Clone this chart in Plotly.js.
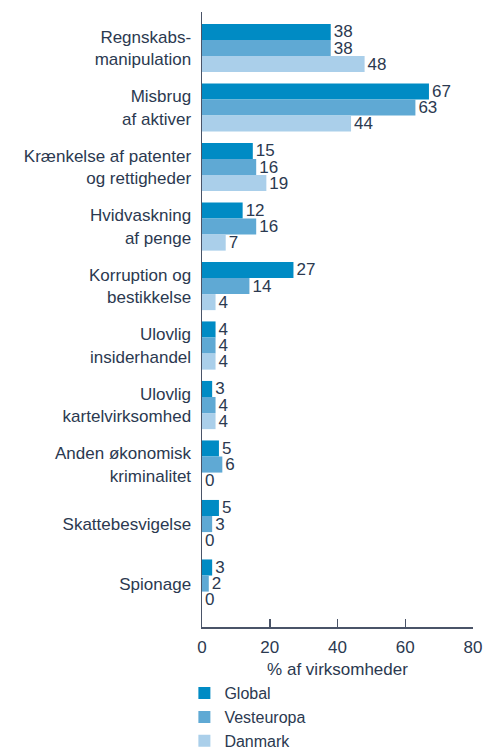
<!DOCTYPE html>
<html>
<head>
<meta charset="utf-8">
<script src="https://cdn.plot.ly/plotly-3.0.1.min.js"></script>
<style>
  html, body { margin: 0; padding: 0; background: #fff; }
  #chart { width: 485px; height: 750px; }
</style>
</head>
<body>
<div id="chart"></div>
<script>
// Kategorier og værdier (% af virksomheder)
const kategorier = [
  "Regnskabs-<br>manipulation",
  "Misbrug<br>af aktiver",
  "Krænkelse af patenter<br>og rettigheder",
  "Hvidvaskning<br>af penge",
  "Korruption og<br>bestikkelse",
  "Ulovlig<br>insiderhandel",
  "Ulovlig<br>kartelvirksomhed",
  "Anden økonomisk<br>kriminalitet",
  "Skattebesvigelse",
  "Spionage"
];
const serier = ["Global", "Vesteuropa", "Danmark"];
const global = [38, 67, 15, 12, 27, 4, 3, 5, 5, 3];
const vesteuropa = [38, 63, 16, 16, 14, 4, 4, 6, 3, 2];
const danmark = [48, 44, 19, 7, 4, 4, 4, 0, 0, 0];
const xTicks = [0, 20, 40, 60, 80];

const farver = ["#008bc4", "#5fa9d4", "#aacfea"];
const tekstFarve = "#2b3950";
const font = "Liberation Sans, Arial, Helvetica, sans-serif";

const traces = [global, vesteuropa, danmark].map((vals, i) => ({
  type: "bar",
  orientation: "h",
  name: serier[i],
  x: vals,
  y: kategorier,
  text: vals.map(String),
  textposition: "outside",
  constraintext: "none",
  cliponaxis: false,
  textfont: { family: font, size: 17, color: tekstFarve },
  marker: { color: farver[i], line: { width: 0 } },
  hoverinfo: "x+name"
}));

const layout = {
  width: 485,
  height: 750,
  margin: { l: 202, r: 12, t: 12, b: 123, autoexpand: false },
  paper_bgcolor: "#fff",
  plot_bgcolor: "#fff",
  font: { family: font, size: 17, color: tekstFarve },
  barmode: "group",
  bargap: 0.19,
  bargroupgap: 0,
  showlegend: true,
  legend: {
    orientation: "v",
    x: -0.065,
    xanchor: "left",
    y: -0.08,
    yanchor: "top",
    font: { family: font, size: 16, color: tekstFarve },
    itemclick: false,
    tracegroupgap: 0
  },
  xaxis: {
    range: [0, 80],
    tickvals: xTicks,
    ticktext: xTicks.map(String),
    ticks: "inside",
    ticklen: 8,
    tickwidth: 1.5,
    tickcolor: "#4a5468",
    showline: true,
    linecolor: "#4a5468",
    linewidth: 1.5,
    showgrid: false,
    zeroline: false,
    automargin: false,
    ticklabelstandoff: 4,
    tickfont: { family: font, size: 17, color: tekstFarve },
    title: { text: "% af virksomheder", font: { family: font, size: 17, color: tekstFarve }, standoff: 7 }
  },
  yaxis: {
    type: "category",
    categoryorder: "array",
    categoryarray: kategorier,
    range: [9.73, -0.605],
    ticks: "",
    showline: true,
    linecolor: "#4a5468",
    linewidth: 1.5,
    showgrid: false,
    zeroline: false,
    automargin: false,
    ticklabelstandoff: 6,
    tickfont: { family: font, size: 17, color: tekstFarve }
  }
};

Plotly.newPlot("chart", traces, layout, { displayModeBar: false, staticPlot: true });
</script>
</body>
</html>
